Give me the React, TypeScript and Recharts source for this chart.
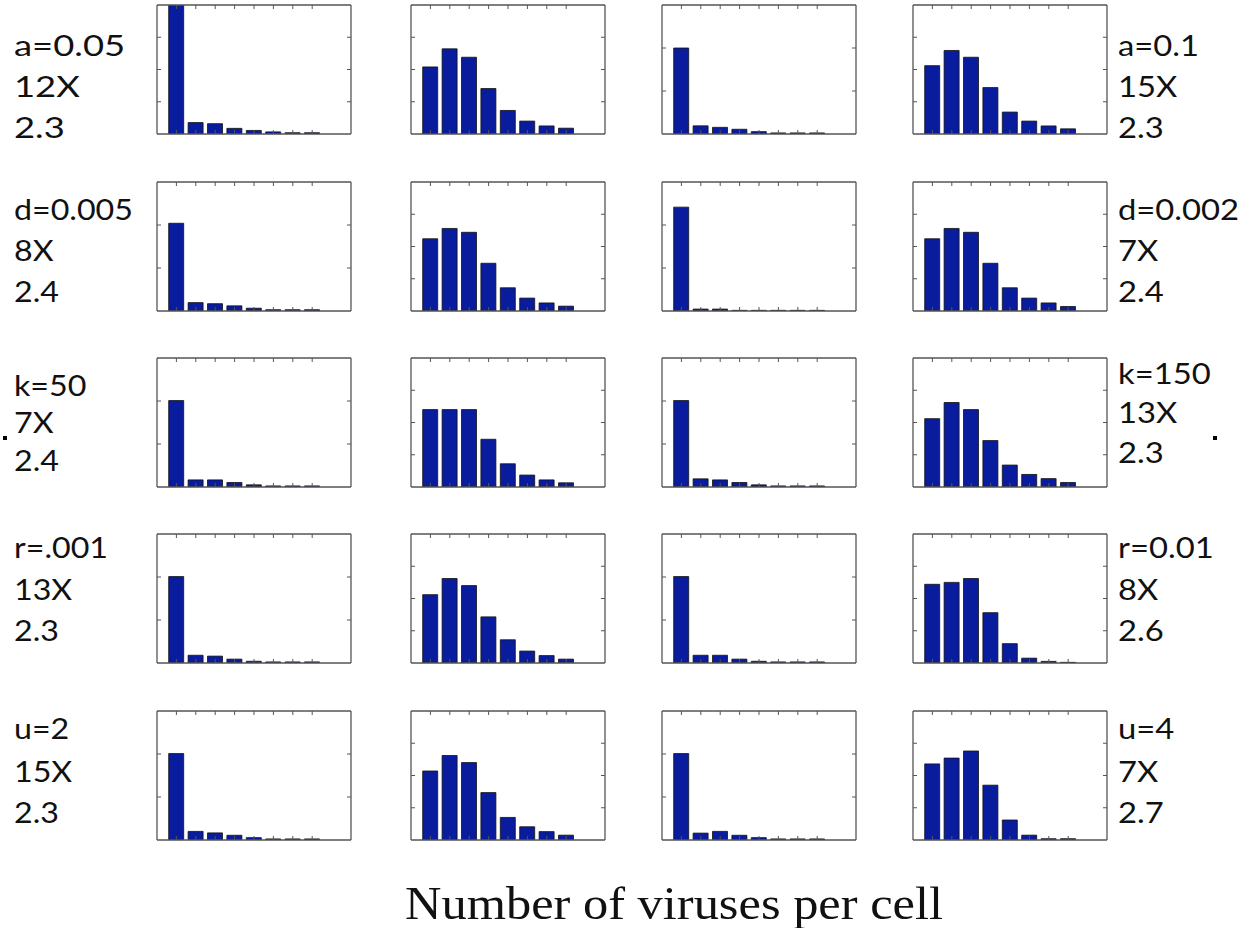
import React from 'react';
import { BarChart, Bar, XAxis, YAxis } from 'recharts';

// Number of viruses per cell (bins)
const bins = [1, 2, 3, 4, 5, 6, 7, 8];

// Fraction of cells per bin, one list per panel (columns 1..4) for each parameter row
const histA = [
  [0.84, 0.071, 0.064, 0.035, 0.022, 0.013, 0.008, 0.008],
  [0.208, 0.264, 0.238, 0.141, 0.073, 0.04, 0.025, 0.018],
  [0.4, 0.038, 0.031, 0.022, 0.011, 0.005, 0.005, 0.005],
  [0.212, 0.259, 0.238, 0.144, 0.068, 0.04, 0.025, 0.016],
];
const histD = [
  [0.408, 0.039, 0.034, 0.024, 0.013, 0.006, 0.006, 0.006],
  [0.224, 0.256, 0.244, 0.148, 0.072, 0.04, 0.025, 0.015],
  [0.483, 0.009, 0.009, 0.003, 0.003, 0.003, 0.003, 0.003],
  [0.224, 0.256, 0.244, 0.148, 0.072, 0.04, 0.025, 0.014],
];
const histK = [
  [0.402, 0.033, 0.033, 0.021, 0.01, 0.005, 0.005, 0.005],
  [0.24, 0.24, 0.24, 0.148, 0.072, 0.037, 0.022, 0.013],
  [0.402, 0.038, 0.033, 0.021, 0.01, 0.005, 0.005, 0.005],
  [0.212, 0.262, 0.24, 0.144, 0.068, 0.039, 0.026, 0.014],
];
const histR = [
  [0.402, 0.036, 0.032, 0.018, 0.008, 0.005, 0.005, 0.005],
  [0.212, 0.262, 0.24, 0.143, 0.072, 0.037, 0.023, 0.012],
  [0.402, 0.036, 0.036, 0.018, 0.008, 0.005, 0.005, 0.005],
  [0.244, 0.25, 0.262, 0.156, 0.06, 0.015, 0.005, 0.002],
];
const histU = [
  [0.402, 0.04, 0.033, 0.022, 0.011, 0.005, 0.005, 0.005],
  [0.214, 0.262, 0.24, 0.147, 0.07, 0.041, 0.026, 0.015],
  [0.402, 0.032, 0.04, 0.022, 0.011, 0.005, 0.005, 0.005],
  [0.236, 0.254, 0.276, 0.17, 0.062, 0.015, 0.004, 0.004],
];
const rowHists = [histA, histD, histK, histR, histU];

// Y-axis upper limits per panel
const yMaxes = [
  [0.8, 0.4, 0.6, 0.4],
  [0.6, 0.4, 0.6, 0.4],
  [0.6, 0.4, 0.6, 0.4],
  [0.6, 0.4, 0.6, 0.4],
  [0.6, 0.4, 0.6, 0.4],
];
const yTicksByMax: Record<string, number[]> = {
  '0.4': [0.1, 0.2, 0.3],
  '0.6': [0.2, 0.4],
  '0.8': [0.2, 0.4, 0.6],
};

const leftLabels = [
  ['a=0.05', '12X', '2.3'],
  ['d=0.005', '8X', '2.4'],
  ['k=50', '7X', '2.4'],
  ['r=.001', '13X', '2.3'],
  ['u=2', '15X', '2.3'],
];
const rightLabels = [
  ['a=0.1', '15X', '2.3'],
  ['d=0.002', '7X', '2.4'],
  ['k=150', '13X', '2.3'],
  ['r=0.01', '8X', '2.6'],
  ['u=4', '7X', '2.7'],
];
const xLabel = 'Number of viruses per cell';

// layout
const colLefts = [158, 412, 663, 914];
const rowTops = [6, 183, 359, 535, 712];
const PW = 192;
const PH = 127;
const leftBaselines = [
  [56, 97, 138],
  [220, 261, 302],
  [396, 433, 471],
  [558, 600, 641],
  [739, 782, 823],
];
const rightBaselines = [
  [56, 97, 138],
  [220, 261, 302],
  [384, 423, 463],
  [558, 600, 641],
  [739, 782, 823],
];

const BAR = '#0a1c9e';
const AX = '#555';

function Panel({ values, yMax, left, top }: { values: number[]; yMax: number; left: number; top: number }) {
  const data = bins.map((b, i) => ({ bin: b, v: values[i] }));
  const yTicks = yTicksByMax[String(yMax)];
  const blank = () => '';
  const common = {
    type: 'number' as const,
    mirror: true,
    tickSize: 4,
    tickFormatter: blank,
    axisLine: { stroke: AX, strokeWidth: 1.3 },
    tickLine: { stroke: AX },
    allowDataOverflow: true,
  };
  return (
    <div style={{ position: 'absolute', left: left - 2, top: top - 2 }}>
      <BarChart width={PW + 4} height={PH + 4} data={data} margin={{ top: 1, right: 1, bottom: 1, left: 1 }}>
        <XAxis {...common} xAxisId="b" dataKey="bin" domain={[0, 10]} ticks={bins} orientation="bottom" height={1} />
        <XAxis {...common} xAxisId="t" dataKey="bin" domain={[0, 10]} ticks={bins} orientation="top" height={1} />
        <YAxis {...common} yAxisId="l" domain={[0, yMax]} ticks={yTicks} orientation="left" width={1} />
        <YAxis {...common} yAxisId="r" domain={[0, yMax]} ticks={yTicks} orientation="right" width={1} />
        <Bar xAxisId="b" yAxisId="l" dataKey="v" barSize={15} fill={BAR} stroke="#111" strokeWidth={0.8} isAnimationActive={false} />
      </BarChart>
    </div>
  );
}

export default function App() {
  const font = 'Lato, "Open Sans", sans-serif';
  return (
    <div style={{ position: 'absolute', left: 0, top: 0, width: 1252, height: 928, background: '#fff' }}>
      <svg width={1252} height={928} style={{ position: 'absolute', left: 0, top: 0 }}>
        {leftLabels.map((lines, r) =>
          lines.map((t, i) => (
            <text
              key={`l${r}${i}`}
              transform={`translate(14,${leftBaselines[r][i]}) scale(${r === 0 ? 1.3 : 1.15},1)`}
              fontFamily={font}
              fontSize={28}
              fill="#111"
            >
              {t}
            </text>
          ))
        )}
        {rightLabels.map((lines, r) =>
          lines.map((t, i) => (
            <text key={`r${r}${i}`} transform={`translate(1118,${rightBaselines[r][i]}) scale(1.17,1)`} fontFamily={font} fontSize={28} fill="#111">
              {t}
            </text>
          ))
        )}
        <rect x={3} y={436} width={4} height={4} fill="#000" />
        <rect x={1213} y={436} width={4} height={4} fill="#000" />
        <text x={674} y={919} textAnchor="middle" fontFamily='"Liberation Serif", "DejaVu Serif", serif' fontSize={46} textLength={538} lengthAdjust="spacingAndGlyphs" fill="#111">
          {xLabel}
        </text>
      </svg>
      {rowHists.map((row, r) =>
        row.map((vals, c) => (
          <Panel key={`${r}-${c}`} values={vals} yMax={yMaxes[r][c]} left={colLefts[c]} top={rowTops[r]} />
        ))
      )}
    </div>
  );
}
